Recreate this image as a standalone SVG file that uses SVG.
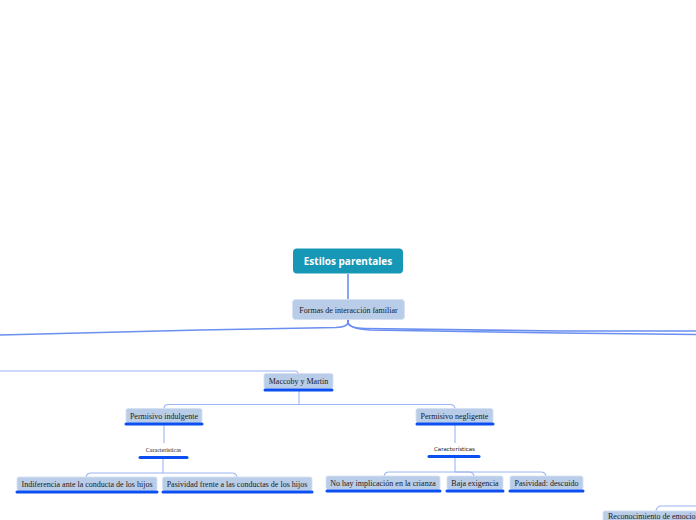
<svg xmlns="http://www.w3.org/2000/svg" width="696" height="520" viewBox="0 0 696 520">
<style>
.n rect.b{fill:#b9cde9;stroke:#d4e1f3;stroke-width:0.8}
.n text{font-family:"Liberation Serif","Times New Roman",serif;font-size:8px;fill:#1a1a1a;text-anchor:middle}
.u{stroke:#0b4ff2;stroke-width:3;stroke-linecap:round}
.c path{fill:none;stroke:#9bb4f4;stroke-width:1.1}
.c path.m{stroke:#6a8ff0;stroke-width:1.6}
.s text{font-size:6px}
</style>
<rect width="696" height="520" fill="#ffffff"/>
<g class="c" id="connectors">
<path class="m" d="M348,274 V299"/>
<path class="m" d="M348,319 V322 Q348,327 336,327.5 L200,330 L0,335"/>
<path class="m" d="M348,319 V322 Q348,328 365,328.5 L560,331 L696,331"/>
<path class="m" d="M348,319 V322 Q349,329 370,330 L560,333 L696,334.5"/>
<path d="M0,371 H295 Q298,371 298,374"/>
<path d="M299,388 V405"/>
<path d="M299,404.5 H168 Q164,404.5 164,409"/>
<path d="M299,404.5 H450 Q455,404.5 455,409"/>
<path d="M164,425 V443"/>
<path d="M163,459 V473"/>
<path d="M163,473 H91 Q87,473 86,477"/>
<path d="M163,473 H232 Q236,473 237,477"/>
<path d="M455,425 V443"/>
<path d="M455,458 V472"/>
<path d="M455,472 H389 Q385,472 384,476"/>
<path d="M455,472 H469 Q473,472 474,476"/>
<path d="M455,472 H541 Q545,472 546,476"/>
<path d="M696,506 H661 Q657,506 656,511"/>
</g>
<g id="root">
<rect x="293" y="248.5" width="110" height="25" rx="4" fill="#1797b6"/>
<text x="348" y="265" font-family="'Open Sans','DejaVu Sans',sans-serif" font-size="10" font-weight="bold" fill="#ffffff" text-anchor="middle">Estilos parentales</text>
</g>
<g class="n" id="formas">
<rect class="b" x="292.5" y="299.5" width="112" height="20" rx="3"/>
<text x="348.5" y="312.5">Formas de interacción familiar</text>
</g>
<g class="n" id="maccoby">
<rect class="b" x="264" y="373.5" width="69" height="15" rx="2"/>
<text x="298.5" y="384">Maccoby y Martin</text>
<line class="u" x1="265" y1="390" x2="332" y2="390"/>
</g>
<g class="n" id="indulgente">
<rect class="b" x="126" y="408.5" width="76" height="14.5" rx="2"/>
<text x="164" y="419">Permisivo indulgente</text>
<line class="u" x1="126" y1="424" x2="202" y2="424"/>
</g>
<g class="n s" id="caract1">
<text x="163.5" y="452">Caracteristicas</text>
<line class="u" x1="140" y1="457.5" x2="187" y2="457.5"/>
</g>
<g class="n" id="indiferencia">
<rect class="b" x="17" y="477" width="140" height="13.5" rx="2"/>
<text x="87" y="486.5">Indiferencia ante la conducta de los hijos</text>
<line class="u" x1="17" y1="492" x2="157" y2="492"/>
</g>
<g class="n" id="pasividad1">
<rect class="b" x="162.5" y="477" width="149.5" height="13.5" rx="2"/>
<text x="237" y="486.5">Pasividad frente a las conductas de los hijos</text>
<line class="u" x1="163" y1="492" x2="312" y2="492"/>
</g>
<g class="n" id="negligente">
<rect class="b" x="416" y="408.5" width="77" height="14.5" rx="2"/>
<text x="454.5" y="419">Permisivo negligente</text>
<line class="u" x1="417" y1="424" x2="493" y2="424"/>
</g>
<g class="n s" id="caract2">
<text x="454.5" y="451" style="font-family:'DejaVu Sans',sans-serif;font-size:5.5px">Características</text>
<line class="u" x1="429" y1="456.5" x2="479" y2="456.5"/>
</g>
<g class="n" id="implicacion">
<rect class="b" x="326" y="476" width="114" height="13.5" rx="2"/>
<text x="383" y="485.5">No hay implicación en la crianza</text>
<line class="u" x1="327" y1="491" x2="440" y2="491"/>
</g>
<g class="n" id="baja">
<rect class="b" x="447" y="476" width="56" height="13.5" rx="2"/>
<text x="475" y="485.5">Baja exigencia</text>
<line class="u" x1="447" y1="491" x2="503" y2="491"/>
</g>
<g class="n" id="descuido">
<rect class="b" x="510" y="476" width="73" height="13.5" rx="2"/>
<text x="546.5" y="485.5">Pasividad: descuido</text>
<line class="u" x1="510" y1="491" x2="583" y2="491"/>
</g>
<g class="n" id="reconocimiento">
<rect class="b" x="603" y="511" width="110" height="14" rx="2"/>
<text x="608" y="519" style="text-anchor:start">Reconocimiento de emocio</text>
</g>
</svg>
